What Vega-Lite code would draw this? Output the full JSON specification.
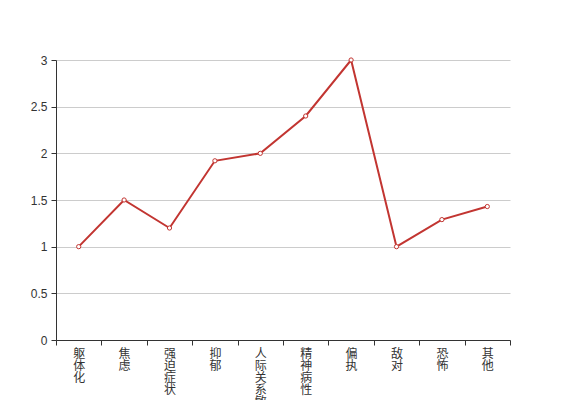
{
  "$schema": "https://vega.github.io/schema/vega-lite/v6.json",
  "autosize": "none",
  "width": 454,
  "height": 280,
  "padding": {"left": 56, "top": 60, "right": 57, "bottom": 60},
  "background": "white",
  "config": {
    "view": {"stroke": null},
    "font": "Liberation Sans, Noto Sans CJK SC, sans-serif"
  },
  "data": {
    "values": [
      {"factor": "躯体化", "score": 1},
      {"factor": "焦虑", "score": 1.5},
      {"factor": "强迫症状", "score": 1.2},
      {"factor": "抑郁", "score": 1.92},
      {"factor": "人际关系敏感", "score": 2},
      {"factor": "精神病性", "score": 2.4},
      {"factor": "偏执", "score": 3},
      {"factor": "敌对", "score": 1},
      {"factor": "恐怖", "score": 1.29},
      {"factor": "其他", "score": 1.43}
    ]
  },
  "encoding": {
    "x": {
      "field": "factor",
      "type": "nominal",
      "sort": null,
      "scale": {"paddingInner": 0, "paddingOuter": 0},
      "axis": {
        "title": null,
        "labelAngle": 0,
        "labelExpr": "split(datum.label, '')",
        "labelLineHeight": 12,
        "labelFontSize": 12,
        "labelColor": "#333",
        "labelBaseline": "top",
        "labelPadding": 3,
        "tickBand": "extent",
        "tickSize": 5,
        "tickColor": "#333",
        "domainColor": "#333",
        "grid": false,
        "labelFont": "Noto Sans CJK SC"
      }
    },
    "y": {
      "field": "score",
      "type": "quantitative",
      "scale": {"domain": [0, 3], "nice": false, "zero": true},
      "axis": {
        "title": null,
        "values": [0, 0.5, 1, 1.5, 2, 2.5, 3],
        "format": "~g",
        "labelFontSize": 12,
        "labelColor": "#333",
        "labelPadding": 4,
        "tickSize": 5,
        "tickColor": "#333",
        "domainColor": "#333",
        "gridColor": "#ccc",
        "grid": true
      }
    }
  },
  "layer": [
    {"mark": {"type": "line", "color": "#c23531", "strokeWidth": 2}},
    {"mark": {"type": "point", "shape": "circle", "filled": true, "fill": "white", "stroke": "#c23531", "strokeWidth": 1, "size": 18, "opacity": 1}}
  ]
}
